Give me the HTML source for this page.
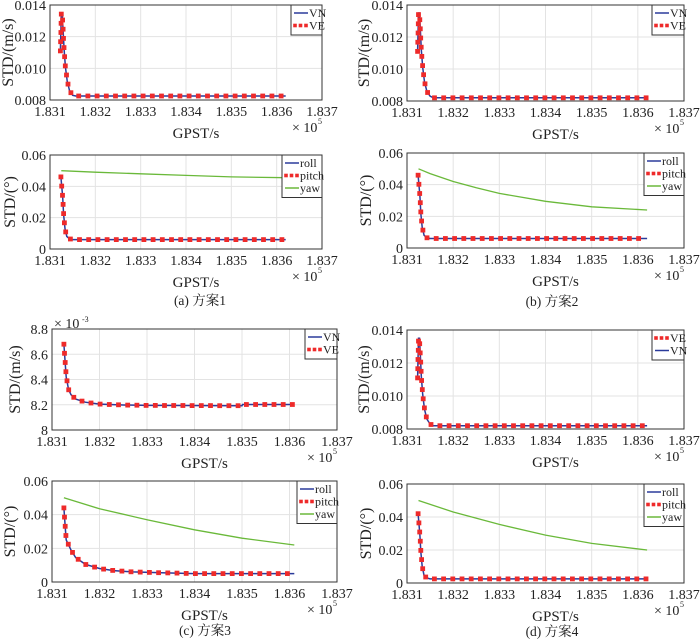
<!DOCTYPE html>
<html><head><meta charset="utf-8">
<style>
html,body{margin:0;padding:0;background:#fff;}
svg{display:block;font-family:"Liberation Serif","Noto Serif CJK SC",serif;}
</style></head>
<body>
<svg id="fig" width="700" height="640" viewBox="0 0 700 640" xmlns="http://www.w3.org/2000/svg"></svg>
<script>
// ---------- data ----------
const xTicks = [1.831, 1.832, 1.833, 1.834, 1.835, 1.836, 1.837];
const xTickLabels = ["1.831","1.832","1.833","1.834","1.835","1.836","1.837"];
const velTicks = [0.008, 0.010, 0.012, 0.014];
const velTickLabels = ["0.008","0.010","0.012","0.014"];
const velTicksC = [8.0, 8.2, 8.4, 8.6, 8.8];
const velTickLabelsC = ["8","8.2","8.4","8.6","8.8"];
const attTicks = [0, 0.02, 0.04, 0.06];
const attTickLabels = ["0","0.02","0.04","0.06"];

// (a) velocity
const velA_x = [1.83123, 1.83125, 1.83127, 1.83129, 1.83131, 1.83134, 1.83138, 1.83143, 1.8315, 1.83157, 1.8362];
const velA_y = [0.0111, 0.0135, 0.0135, 0.0124, 0.0112, 0.0101, 0.0092, 0.0086, 0.0083, 0.00825, 0.00825];
// (a) attitude
const attA_x = [1.83124, 1.83128, 1.8313, 1.83133, 1.83137, 1.83143, 1.8315, 1.8362];
const attA_roll = [0.046, 0.033, 0.022, 0.013, 0.008, 0.0065, 0.006, 0.006];
const yawA_x = [1.83125, 1.832, 1.833, 1.834, 1.835, 1.8362];
const yawA_y = [0.050, 0.049, 0.048, 0.047, 0.046, 0.0455];
// (b)
const velB_x = [1.83123, 1.83125, 1.83127, 1.83129, 1.83131, 1.83134, 1.83138, 1.83143, 1.8315, 1.83157, 1.8362];
const velB_y = [0.0111, 0.0135, 0.0135, 0.0124, 0.0112, 0.0101, 0.0092, 0.0086, 0.0083, 0.0082, 0.0082];
const attB_x = [1.83124, 1.83128, 1.8313, 1.83133, 1.83137, 1.83143, 1.8315, 1.8362];
const attB_roll = [0.046, 0.033, 0.022, 0.013, 0.008, 0.0065, 0.006, 0.006];
const yawB_x = [1.83125, 1.8315, 1.832, 1.8325, 1.833, 1.834, 1.835, 1.8362];
const yawB_y = [0.050, 0.047, 0.042, 0.038, 0.0345, 0.0295, 0.026, 0.024];
// (c)
const velC_x = [1.83125, 1.83128, 1.8313, 1.83135, 1.8314, 1.8315, 1.8317, 1.832, 1.8325, 1.833, 1.835, 1.83501, 1.8361];
const velC_y = [8.68, 8.52, 8.42, 8.32, 8.28, 8.245, 8.22, 8.205, 8.198, 8.195, 8.192, 8.202, 8.202];
const attC_x = [1.83125, 1.83128, 1.8313, 1.8314, 1.8315, 1.8317, 1.832, 1.8323, 1.8327, 1.8333, 1.834, 1.8361];
const attC_roll = [0.044, 0.032, 0.025, 0.019, 0.0145, 0.0105, 0.008, 0.0068, 0.006, 0.0055, 0.005, 0.005];
const yawC_x = [1.83125, 1.832, 1.833, 1.834, 1.835, 1.8361];
const yawC_y = [0.050, 0.0435, 0.037, 0.031, 0.026, 0.022];
// (d)
const velD_x = [1.83123, 1.83125, 1.83127, 1.83129, 1.83131, 1.83134, 1.83138, 1.83143, 1.8315, 1.83157, 1.8362];
const velD_y = [0.0111, 0.0135, 0.0135, 0.0124, 0.0112, 0.0101, 0.0092, 0.0086, 0.0083, 0.0082, 0.0082];
const attD_x = [1.83124, 1.83128, 1.8313, 1.83133, 1.83137, 1.83143, 1.8315, 1.8362];
const attD_roll = [0.042, 0.029, 0.019, 0.010, 0.0045, 0.003, 0.0025, 0.0025];
const yawD_x = [1.83125, 1.832, 1.833, 1.834, 1.835, 1.8362];
const yawD_y = [0.050, 0.043, 0.0355, 0.029, 0.024, 0.020];

// ---------- rendering ----------
const NS = "http://www.w3.org/2000/svg";
const svg = document.getElementById("fig");
function mk(tag, attrs, parent, text){
  const e = document.createElementNS(NS, tag);
  for (const k in attrs) e.setAttribute(k, attrs[k]);
  if (text !== undefined) e.textContent = text;
  (parent || svg).appendChild(e);
  return e;
}
function markersAlong(pts, g, step){
  const out = [pts[0]];
  let acc = 0;
  for (let i = 1; i < pts.length; i++){
    const [x0,y0] = pts[i-1], [x1,y1] = pts[i];
    const L = Math.hypot(x1-x0, y1-y0);
    let d = step - acc;
    while (d <= L){
      out.push([x0 + (x1-x0)*d/L, y0 + (y1-y0)*d/L]);
      d += step;
    }
    acc = L - (d - step);
  }
  for (const [x,y] of out){
    const r = mk("rect", {x:(x-2.4).toFixed(1), y:(y-2.4).toFixed(1), width:4.8, height:4.8, fill:"#ee2a2a"}, g);
    
    
  }
}
function panel(o){
  const g = mk("g", {});
  
  
  const X = v => o.l + (v - 1.831) / 0.006 * (o.r - o.l);
  const Y = v => o.b - (v - o.ymin) / (o.ymax - o.ymin) * (o.b - o.t);
  xTicks.forEach((t,i) => {
    const x = X(t);
    if (i>0 && i<xTicks.length-1){
      const gl = mk("line", {x1:x, x2:x, y1:o.t, y2:o.b, stroke:"#e3e3e3", "stroke-width":1}, g);
      
      
    }
    const tl = mk("text", {x:x, y:o.b+16, "text-anchor":"middle", "font-size":14, fill:"#222"}, g, xTickLabels[i]);
    
    
  });
  o.yt.forEach((t,i) => {
    const y = Y(t);
    if (i>0 && i<o.yt.length-1){
      const gl = mk("line", {x1:o.l, x2:o.r, y1:y, y2:y, stroke:"#e3e3e3", "stroke-width":1}, g);
      
      
    }
    const tl = mk("text", {x:o.l-4, y:y+5, "text-anchor":"end", "font-size":14, fill:"#222"}, g, o.ytl[i]);
    
    
  });
  o.series.forEach(s => {
    const pts = s.x.map((v,i) => [X(v), Y(s.y[i])]);
    const d = pts.map((p,i) => (i?"L":"M") + p[0].toFixed(1) + " " + p[1].toFixed(1)).join(" ");
    if (s.type === "yaw"){
      const p = mk("path", {d:d, fill:"none", stroke:"#6ab93a", "stroke-width":1.3}, g);
      
      
    } else {
      const p = mk("path", {d:d, fill:"none", stroke:"#2a3a9a", "stroke-width":1.5}, g);
      
      
      markersAlong(pts, g, 9.2);
    }
  });
  const fr = mk("rect", {x:o.l, y:o.t, width:o.r-o.l, height:o.b-o.t, fill:"none", stroke:"#333", "stroke-width":1}, g);
  
  
  const xl = mk("text", {x:(o.l+o.r)/2+10, y:o.b+38, "text-anchor":"middle", "font-size":15, fill:"#222"}, g, "GPST/s");
  
  
  const ex = mk("text", {x:o.r-30, y:o.b+32, "font-size":14, fill:"#222"}, g, "\u00d7 10");
  
  
  mk("text", {x:o.r-4, y:o.b+24, "font-size":8, fill:"#222"}, g, "5");
  const yl = mk("text", {x:0, y:0, transform:`translate(${o.yx},${(o.t+o.b)/2}) rotate(-90)`, "text-anchor":"middle", "font-size":16, fill:"#222"}, g, o.ylabel);
  
  
  if (o.yexp){
    const ye = mk("text", {x:o.l+2, y:o.t-1, "font-size":14, fill:"#222"}, g, "\u00d7 10");
    
    
    mk("text", {x:o.l+30, y:o.t-7, "font-size":8, fill:"#222"}, g, "-3");
  }
  const lh = 12.5;
  const lw = o.legW;
  const lx = o.r - lw, ly = o.t;
  const lg = mk("g", {}, g);
  
  
  mk("rect", {x:lx, y:ly, width:lw, height:o.legend.length*lh+5, fill:"#fff", stroke:"#333", "stroke-width":1}, lg);
  o.legend.forEach((e,i) => {
    const cy = ly + 8 + i*lh;
    if (e.k === "line") mk("line", {x1:lx+3, x2:lx+17, y1:cy, y2:cy, stroke:"#2a3a9a", "stroke-width":1.5}, lg);
    else if (e.k === "yaw") mk("line", {x1:lx+3, x2:lx+17, y1:cy, y2:cy, stroke:"#6ab93a", "stroke-width":1.5}, lg);
    else { [4,9.5,15].forEach(dx => mk("rect", {x:lx+dx-1.8, y:cy-1.8, width:3.6, height:3.6, fill:"#ee2a2a"}, lg)); }
    const t = mk("text", {x:lx+18, y:cy+4, "font-size":12, fill:"#222"}, lg, e.t);
    
    
  });
}
const velLeg = [{k:"line",t:"VN"},{k:"mk",t:"VE"}];
const velLegD = [{k:"mk",t:"VE"},{k:"line",t:"VN"}];
const attLeg = [{k:"line",t:"roll"},{k:"mk",t:"pitch"},{k:"yaw",t:"yaw"}];

panel({name:"panel-a-velocity", l:50, r:322, t:5, b:100, ymin:0.008, ymax:0.014, yt:velTicks, ytl:velTickLabels, ylabel:"STD/(m/s)", yx:13, legW:31, legend:velLeg,
  series:[{type:"vel", x:velA_x, y:velA_y}]});
panel({name:"panel-a-attitude", l:50, r:322, t:155, b:249, ymin:0, ymax:0.06, yt:attTicks, ytl:attTickLabels, ylabel:"STD/(°)", yx:15, legW:40, legend:attLeg,
  series:[{type:"yaw", x:yawA_x, y:yawA_y},{type:"roll", x:attA_x, y:attA_roll}]});
panel({name:"panel-b-velocity", l:407, r:684, t:5, b:101, ymin:0.008, ymax:0.014, yt:velTicks, ytl:velTickLabels, ylabel:"STD/(m/s)", yx:369, legW:32, legend:velLeg,
  series:[{type:"vel", x:velB_x, y:velB_y}]});
panel({name:"panel-b-attitude", l:407, r:684, t:153, b:248, ymin:0, ymax:0.06, yt:attTicks, ytl:attTickLabels, ylabel:"STD/(°)", yx:371, legW:40, legend:attLeg,
  series:[{type:"yaw", x:yawB_x, y:yawB_y},{type:"roll", x:attB_x, y:attB_roll}]});
panel({name:"panel-c-velocity", l:52, r:337, t:329, b:430, ymin:8.0, ymax:8.8, yt:velTicksC, ytl:velTickLabelsC, ylabel:"STD/(m/s)", yx:20, legW:32, legend:velLeg, yexp:true,
  series:[{type:"vel", x:velC_x, y:velC_y}]});
panel({name:"panel-c-attitude", l:52, r:337, t:481, b:582, ymin:0, ymax:0.06, yt:attTicks, ytl:attTickLabels, ylabel:"STD/(°)", yx:15, legW:40, legend:attLeg,
  series:[{type:"yaw", x:yawC_x, y:yawC_y},{type:"roll", x:attC_x, y:attC_roll}]});
panel({name:"panel-d-velocity", l:407, r:684, t:330, b:429, ymin:0.008, ymax:0.014, yt:velTicks, ytl:velTickLabels, ylabel:"STD/(m/s)", yx:369, legW:32, legend:velLegD,
  series:[{type:"vel", x:velD_x, y:velD_y}]});
panel({name:"panel-d-attitude", l:407, r:684, t:484, b:583, ymin:0, ymax:0.06, yt:attTicks, ytl:attTickLabels, ylabel:"STD/(°)", yx:371, legW:40, legend:attLeg,
  series:[{type:"yaw", x:yawD_x, y:yawD_y},{type:"roll", x:attD_x, y:attD_roll}]});

const caps = [["(a) 方案1",200,305],["(b) 方案2",552,306],["(c) 方案3",205,635],["(d) 方案4",552,636]];
caps.forEach(c => {
  const t = mk("text", {x:c[1], y:c[2], "text-anchor":"middle", "font-size":13.5, fill:"#222"}, svg, c[0]);
  
  
});
</script>
</body></html>
